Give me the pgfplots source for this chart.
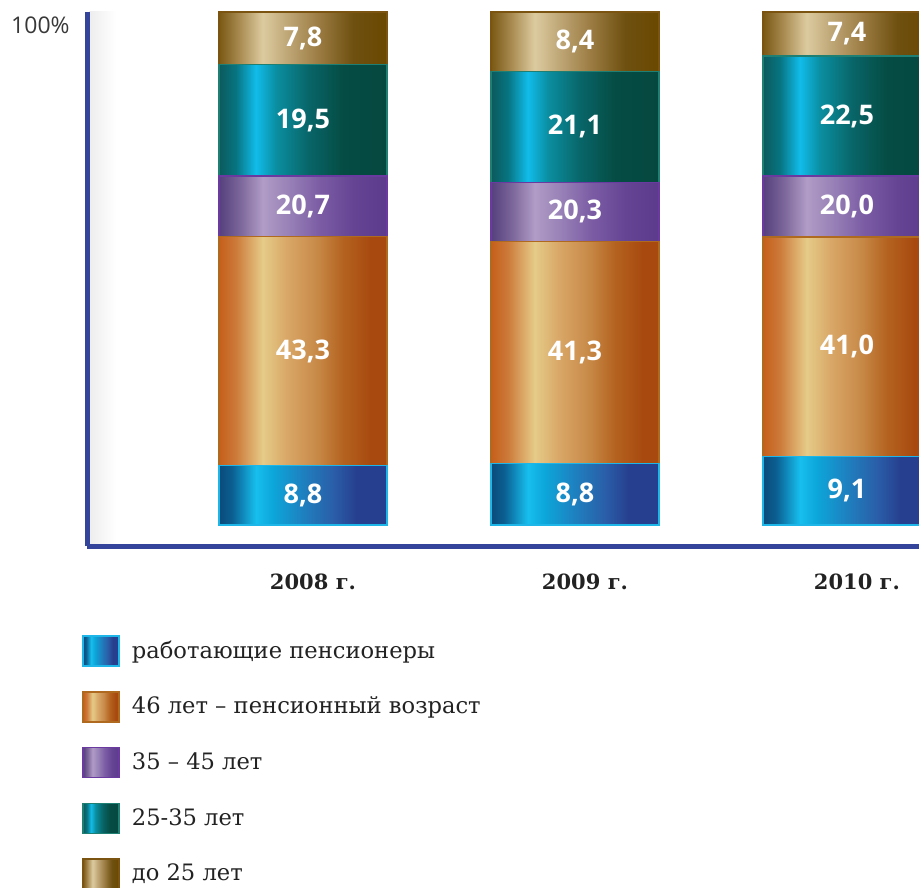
\documentclass[border=0pt]{standalone}
\usepackage{pgfplots}
\pgfplotsset{compat=1.18}
\usepackage{pgfplotstable}
\usepackage{fontspec}
\setmainfont{DejaVu Serif}
\newfontfamily\numfont{Open Sans}

\definecolor{axisblue}{HTML}{34449A}
\definecolor{txt}{HTML}{222222}
% blue
\definecolor{bA}{HTML}{0A4A7A}\definecolor{bB}{HTML}{0B5F92}\definecolor{bC}{HTML}{17BFEE}
\definecolor{bD}{HTML}{0CA6DA}\definecolor{bE}{HTML}{1E80BF}\definecolor{bF}{HTML}{2A5EA8}
\definecolor{bG}{HTML}{263F8E}\definecolor{bEdge}{HTML}{1EB6E8}
% orange
\definecolor{oA}{HTML}{C55F1A}\definecolor{oB}{HTML}{CC7A3A}\definecolor{oC}{HTML}{E6CB88}
\definecolor{oD}{HTML}{D9A868}\definecolor{oE}{HTML}{C88A48}\definecolor{oF}{HTML}{B4621F}
\definecolor{oG}{HTML}{A84A10}\definecolor{oEdge}{HTML}{B06A20}
% purple
\definecolor{pA}{HTML}{55407E}\definecolor{pB}{HTML}{7A6498}\definecolor{pC}{HTML}{B09CC6}
\definecolor{pD}{HTML}{9A84B8}\definecolor{pE}{HTML}{7B5CA4}\definecolor{pF}{HTML}{654494}
\definecolor{pG}{HTML}{5C3A8C}\definecolor{pEdge}{HTML}{6A3AA0}
% teal
\definecolor{tA}{HTML}{0B5A5C}\definecolor{tB}{HTML}{077480}\definecolor{tC}{HTML}{11BCEA}
\definecolor{tD}{HTML}{0A8EA0}\definecolor{tE}{HTML}{086466}\definecolor{tF}{HTML}{054C44}
\definecolor{tG}{HTML}{054840}\definecolor{tEdge}{HTML}{1F7F72}
% gold
\definecolor{gA}{HTML}{7A5814}\definecolor{gB}{HTML}{A88A50}\definecolor{gC}{HTML}{DCCBA0}
\definecolor{gD}{HTML}{C0A878}\definecolor{gE}{HTML}{9A7A40}\definecolor{gF}{HTML}{6E5010}
\definecolor{gG}{HTML}{6A4800}\definecolor{gEdge}{HTML}{7A5410}

% the path covers 25bp..75bp of each shading
\pgfdeclarehorizontalshading{shblue}{100bp}{color(0bp)=(bA); color(25bp)=(bA); color(29bp)=(bB);
  color(36bp)=(bC); color(41bp)=(bD); color(50bp)=(bE); color(59bp)=(bF); color(66bp)=(bG); color(100bp)=(bG)}
\pgfdeclarehorizontalshading{shorange}{100bp}{color(0bp)=(oA); color(25bp)=(oA); color(30bp)=(oB);
  color(38bp)=(oC); color(45bp)=(oD); color(54bp)=(oE); color(62bp)=(oF); color(70bp)=(oG); color(100bp)=(oG)}
\pgfdeclarehorizontalshading{shpurple}{100bp}{color(0bp)=(pA); color(25bp)=(pA); color(31bp)=(pB);
  color(38bp)=(pC); color(45bp)=(pD); color(55bp)=(pE); color(65bp)=(pF); color(75bp)=(pG); color(100bp)=(pG)}
\pgfdeclarehorizontalshading{shteal}{100bp}{color(0bp)=(tA); color(25bp)=(tA); color(30bp)=(tB);
  color(36bp)=(tC); color(42bp)=(tD); color(52bp)=(tE); color(62bp)=(tF); color(75bp)=(tG); color(100bp)=(tG)}
\pgfdeclarehorizontalshading{shgold}{100bp}{color(0bp)=(gA); color(25bp)=(gA); color(31bp)=(gB);
  color(38bp)=(gC); color(45bp)=(gD); color(55bp)=(gE); color(65bp)=(gF); color(75bp)=(gG); color(100bp)=(gG)}

% drawn heights (share of the 100% column) and the printed values
\pgfplotstableread{
x blue orange purple teal gold lblue lorange lpurple lteal lgold
0 11.6 44.6 11.8 21.8 10.2 8,8 43,3 20,7 19,5 7,8
1 12.0 43.3 11.5 21.6 11.6 8,8 41,3 20,3 21,1 8,4
2 13.4 42.7 11.9 23.4 8.6 9,1 41,0 20,0 22,5 7,4
}\shares

% running tops of the segments
\def\topB{\thisrow{blue}}
\def\topO{\thisrow{blue}+\thisrow{orange}}
\def\topP{\thisrow{blue}+\thisrow{orange}+\thisrow{purple}}
\def\topT{\thisrow{blue}+\thisrow{orange}+\thisrow{purple}+\thisrow{teal}}
\def\topG{\thisrow{blue}+\thisrow{orange}+\thisrow{purple}+\thisrow{teal}+\thisrow{gold}}

\pgfplotsset{
  frame/.style={
    at={(43.5pt,-6pt)}, anchor=north west,
    scale only axis, width=416pt, height=267pt,
    xmin=-0.794, xmax=2.265, ymin=-4.09, ymax=100,
  },
  seg/.style n args={2}{shade, shading=#1, draw=#2, line width=0.75pt, /pgf/bar shift=0pt},
  lbl/.style={draw=none, mark=none, nodes near coords, point meta=explicit symbolic,
    nodes near coords style={anchor=center, text=white, font=\numfont\bfseries\fontsize{13.5pt}{15pt}\selectfont}},
}

% one column segment per plot, so that each bar gets its own shading
\newcommand\segcolumn[3]{%
  \addplot[seg={#1}{#2}, restrict x to domain=-0.2:0.2] table[x=x, y expr=#3]{\shares};
  \addplot[seg={#1}{#2}, forget plot, restrict x to domain=0.8:1.2] table[x=x, y expr=#3]{\shares};
  \addplot[seg={#1}{#2}, forget plot, restrict x to domain=1.8:2.2] table[x=x, y expr=#3]{\shares};
}

\begin{document}
\begin{tikzpicture}
\useasboundingbox (0,0) rectangle (459.5pt,-443.5pt);
\shade[left color=black!7, right color=white] (44.5pt,-6pt) rectangle (58pt,-272pt);
\begin{axis}[
  frame,
  ybar, bar width=0.618,
  axis x line*=bottom, axis y line*=left,
  axis line style={draw=axisblue, line width=2.5pt, -},
  xtick={0,1,2}, xticklabels={2008 г.,2009 г.,2010 г.},
  ytick={100}, yticklabels={100\%},
  major tick length=0pt,
  x tick label style={font=\bfseries\fontsize{10.5pt}{12pt}\selectfont, text=txt, anchor=center, yshift=-18pt, xshift=5pt},
  y tick label style={font=\numfont\fontsize{11.5pt}{13pt}\selectfont, text=txt!90, anchor=east, inner sep=0pt, xshift=-8.5pt, yshift=-6.5pt},
  reverse legend,
  legend style={at={(-0.006,-0.1667)}, anchor=north west, draw=none, fill=none,
    inner sep=0pt, row sep=12.1pt, cells={anchor=west},
    font=\fontsize{11.3pt}{13pt}\selectfont, text=txt,
    /tikz/every odd column/.append style={column sep=4pt}},
  legend image code/.code={\path[#1] (0pt,-7.5pt) rectangle (18pt,7.5pt);},
]
\segcolumn{shgold}{gEdge}{\topG}
\segcolumn{shteal}{tEdge}{\topT}
\segcolumn{shpurple}{pEdge}{\topP}
\segcolumn{shorange}{oEdge}{\topO}
\segcolumn{shblue}{bEdge}{\topB}
\legend{до 25 лет, 25-35 лет, 35 – 45 лет, 46 лет – пенсионный возраст, работающие пенсионеры}
\end{axis}
\begin{axis}[frame, hide axis]
\addplot[lbl] table[x=x, y expr=\thisrow{blue}/2, meta=lblue]{\shares};
\addplot[lbl] table[x=x, y expr=\topB+\thisrow{orange}/2, meta=lorange]{\shares};
\addplot[lbl] table[x=x, y expr=\topO+\thisrow{purple}/2, meta=lpurple]{\shares};
\addplot[lbl] table[x=x, y expr=\topP+\thisrow{teal}/2, meta=lteal]{\shares};
\addplot[lbl] table[x=x, y expr=\topT+\thisrow{gold}/2, meta=lgold]{\shares};
\end{axis}
\end{tikzpicture}
\end{document}
